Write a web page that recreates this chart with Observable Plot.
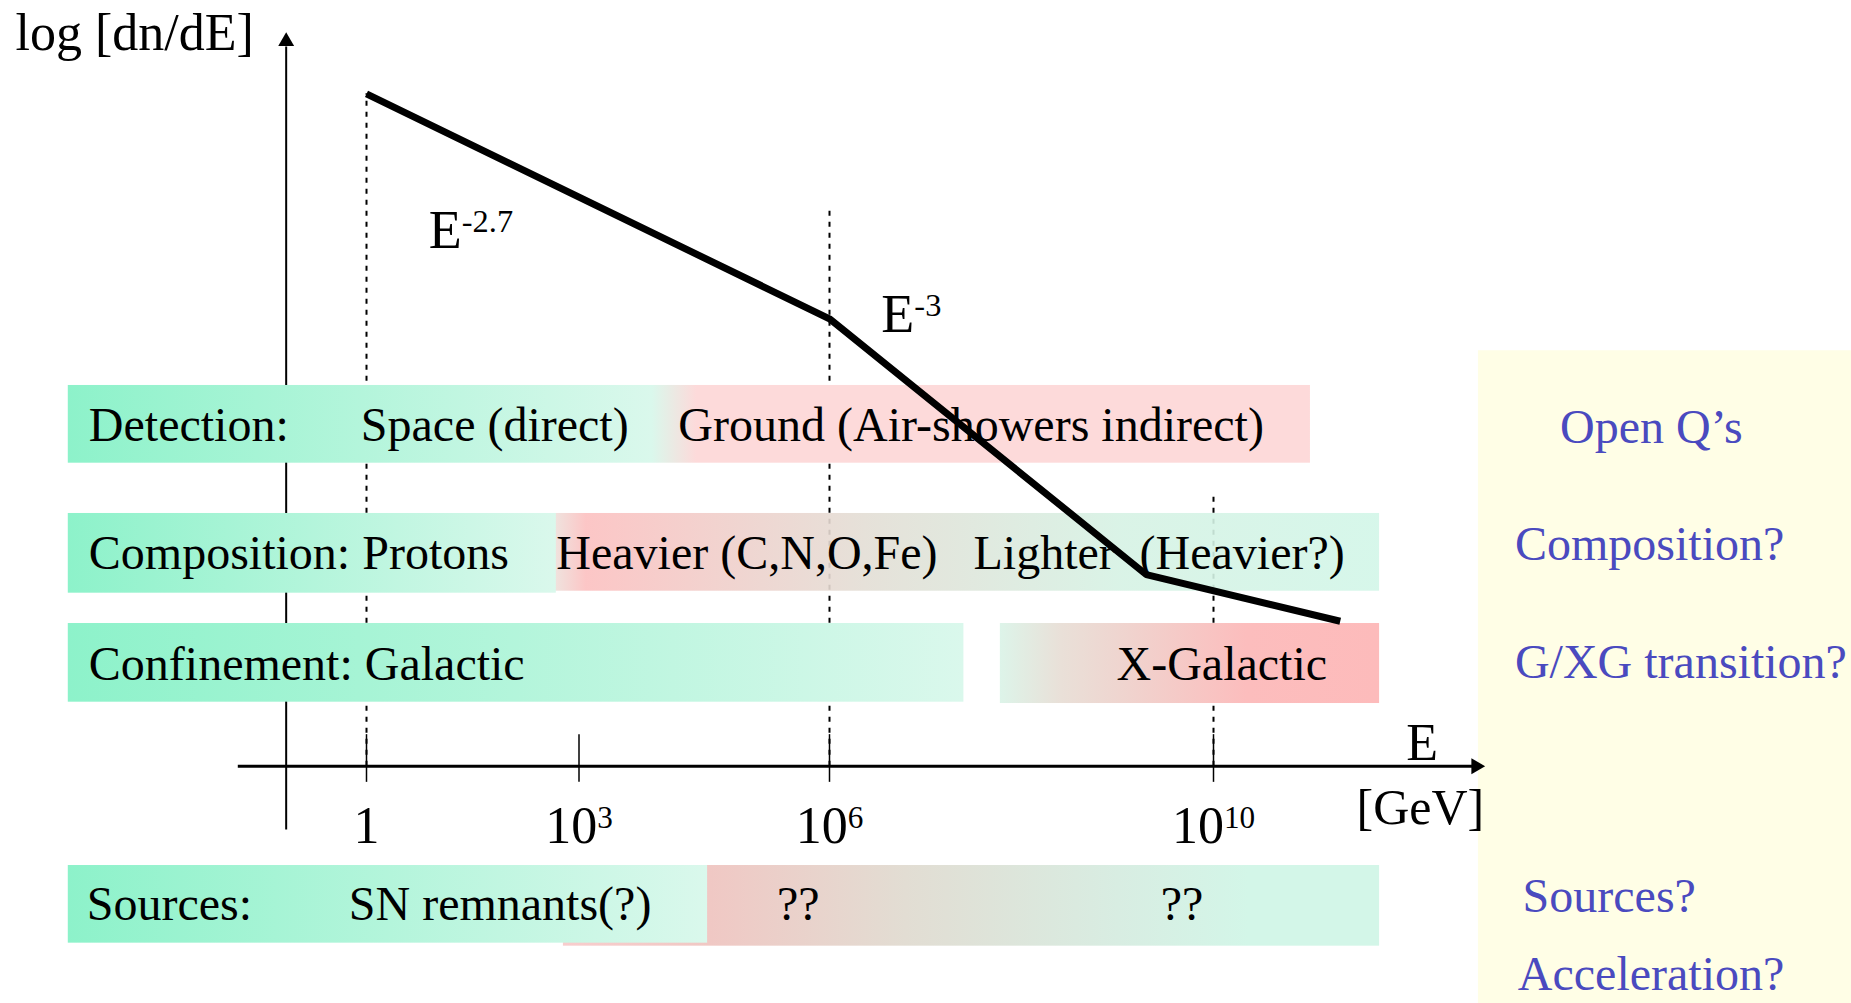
<!DOCTYPE html>
<html>
<head>
<meta charset="utf-8">
<script src="https://cdn.jsdelivr.net/npm/d3@7"></script>
<script src="https://cdn.jsdelivr.net/npm/@observablehq/plot@0.6"></script>
<style>
  html, body { margin: 0; padding: 0; background: #fff; }
  #chart svg { display: block; }
</style>
</head>
<body>
<div id="chart"></div>
<script>
// Energy axis in decades: log10(E / GeV)
const tickExponents = [0, 3, 6, 10];
const tickLabels = ["1", "10^3", "10^6", "10^10"];

// Schematic broken power law: log10 E against log dn/dE (arbitrary units, 0 on the energy axis)
const spectrumLogE = [0, 6, 9.3, 11.32];
const spectrumLogFlux = [91.6, 60.95, 26.1, 19.75];

// Spectral index annotations
const indexLabels = ["E^-2.7", "E^-3"];
const indexLogE = [0.88, 6.54];
const indexLogFlux = [70.6, 59.1];

// Dashed guides at 1 GeV, the knee and 10^10 GeV
const guideLogE = [0, 6, 10];
const guideTop = [91.6, 76.25, 37.15];

// Energy ranges of each topic band
const segTopic = ["Detection", "Composition", "Composition", "Confinement", "Confinement", "Sources", "Sources"];
const segFrom = [-4.21, 2.44, -4.21, -4.21, 7.78, 2.78, -4.21];
const segTo = [11.01, 11.73, 2.68, 7.40, 11.73, 11.73, 4.54];
const segLow = [41.28, 23.84, 23.57, 8.72, 8.54, -24.52, -24.11];
const segHigh = [51.87, 34.43, 34.43, 19.44, 19.44, -13.53, -13.53];
const segShade = ["spaceToGround", "heavyToLight", "galactic", "galactic", "extraGalactic", "unknown", "galactic"];

// Band texts
const bandLabels = [
  "Detection:", "Space (direct)", "Ground (Air-showers indirect)",
  "Composition: Protons", "Heavier (C,N,O,Fe)", "Lighter", "(Heavier?)",
  "Confinement: Galactic", "X-Galactic",
  "Sources:", "SN remnants(?)", "??", "??"
];
const bandLabelLogE = [-3.92, -0.08, 4.19, -3.92, 2.68, 7.5, 9.23, -3.92, 8.99, -3.95, -0.25, 5.37, 9.45];
const bandLabelLevel = [44.3, 44.3, 44.3, 26.9, 26.9, 26.9, 26.9, 11.8, 11.8, -21.0, -21.0, -21.0, -21.0];

// Open questions
const questions = ["Open Q\u2019s", "Composition?", "G/XG transition?", "Sources?", "Acceleration?"];
const questionLogE = [13.61, 13.14, 13.14, 13.22, 13.17];
const questionLevel = [44.1, 28.16, 11.95, -19.93, -30.55];

// Axis extents
const energyAxisSpan = [-1.81, 12.83];
const fluxAxisAt = -1.134;
const fluxAxisSpan = [-8.68, 100];
const notesPanel = {x1: 12.76, x2: 16.8, y1: -33, y2: 56.6};

// Gradient stops for the band fills
const shades = {
  galactic: [[0, "#8DF2CA"], [1, "#DAF8EC"]],
  spaceToGround: [[0, "#8DF2CA"], [0.47, "#DAF8EC"], [0.506, "#FDDADA"], [1, "#FDDADA"]],
  heavyToLight: [[0, "#E6F0E8"], [0.056, "#FCC0C0"], [0.39, "#E3DED5"], [0.69, "#D6F2E4"], [1, "#D2F6E8"]],
  extraGalactic: [[0, "#DDF4E9"], [0.16, "#E9E0D8"], [0.65, "#FCBDBD"], [1, "#FDBBBB"]],
  unknown: [[0, "#F8CDCD"], [0.18, "#F0C8C4"], [0.42, "#E2DDD3"], [0.68, "#D8EDE2"], [0.84, "#D3F6E8"], [1, "#D3F6E8"]]
};
// The composition overlay lets the guides show through faintly
const translucentShades = new Set(["heavyToLight"]);

const serif = "'Liberation Serif', 'Times New Roman', Times, serif";
const ink = "#000";
const questionBlue = "#4A4ABF";
const notesFill = "#FFFEE6";
const idx = n => d3.range(n);

const bandMarks = segTopic.map((topic, i) => Plot.rect([i], {
  x1: segFrom[i], x2: segTo[i], y1: segLow[i], y2: segHigh[i],
  fill: `url(#shade-${segShade[i]})`,
  fillOpacity: translucentShades.has(segShade[i]) ? 0.9 : 1
}));

const chart = Plot.plot({
  width: 1851,
  height: 1003,
  x: {type: "linear", domain: tickExponents, range: [366, 578.5, 829, 1213], axis: null},
  y: {domain: [0, 100], range: [765.7, 31.7], axis: null},
  style: {fontFamily: serif, background: "white"},
  marks: [
    Plot.rect([notesPanel], {x1: "x1", x2: "x2", y1: "y1", y2: "y2", fill: notesFill}),
    // vertical flux axis and dashed guides sit beneath the bands
    Plot.ruleX([fluxAxisAt], {y1: fluxAxisSpan[0], y2: fluxAxisSpan[1] - 2, stroke: ink, strokeWidth: 2}),
    Plot.ruleX(idx(guideLogE.length), {
      x: i => guideLogE[i], y1: 0, y2: i => guideTop[i],
      stroke: ink, strokeWidth: 2, strokeDasharray: "5,6"
    }),
    ...bandMarks,
    Plot.ruleY([0], {x1: energyAxisSpan[0], x2: energyAxisSpan[1] - 0.1, stroke: ink, strokeWidth: 3}),
    Plot.ruleX(tickExponents, {y1: -2.2, y2: 4.3, stroke: ink, strokeWidth: 1.5}),
    Plot.dot([0], {x: fluxAxisAt, y: fluxAxisSpan[1], symbol: "triangle", r: 5.9, fill: ink, dy: 9.2}),
    Plot.dot([0], {x: energyAxisSpan[1], y: 0, symbol: "triangle", r: 5.9, fill: ink, rotate: 90, dx: -9.2}),
    Plot.line(idx(spectrumLogE.length), {
      x: i => spectrumLogE[i], y: i => spectrumLogFlux[i],
      stroke: ink, strokeWidth: 7, strokeLinejoin: "miter", strokeLinecap: "butt"
    }),
    Plot.text(idx(indexLabels.length), {
      x: i => indexLogE[i], y: i => indexLogFlux[i], text: i => indexLabels[i],
      fontSize: 54, textAnchor: "start", lineAnchor: "bottom", fill: ink
    }),
    Plot.text(idx(tickLabels.length), {
      x: i => tickExponents[i], y: -10.53, text: i => tickLabels[i],
      fontSize: 52, textAnchor: "middle", lineAnchor: "bottom", fill: ink
    }),
    Plot.text(idx(bandLabels.length), {
      x: i => bandLabelLogE[i], y: i => bandLabelLevel[i], text: i => bandLabels[i],
      fontSize: 48, textAnchor: "start", lineAnchor: "bottom", fill: ink
    }),
    Plot.text(idx(questions.length), {
      x: i => questionLogE[i], y: i => questionLevel[i], text: i => questions[i],
      fontSize: 48, textAnchor: "start", lineAnchor: "bottom", fill: questionBlue
    }),
    Plot.text(["log [dn/dE]"], {x: -4.955, y: 97.6, fontSize: 52, textAnchor: "start", lineAnchor: "bottom", fill: ink}),
    Plot.text(["E"], {x: 12.008, y: 0.87, fontSize: 52, textAnchor: "start", lineAnchor: "bottom", fill: ink}),
    Plot.text(["[GeV]"], {x: 12.82, y: -7.85, fontSize: 50, textAnchor: "end", lineAnchor: "bottom", fill: ink})
  ]
});

// Linear gradients referenced by the band fills
const NS = "http://www.w3.org/2000/svg";
const defs = document.createElementNS(NS, "defs");
for (const [name, stops] of Object.entries(shades)) {
  const g = document.createElementNS(NS, "linearGradient");
  g.setAttribute("id", `shade-${name}`);
  g.setAttribute("x1", "0"); g.setAttribute("x2", "1");
  g.setAttribute("y1", "0"); g.setAttribute("y2", "0");
  for (const [offset, color] of stops) {
    const s = document.createElementNS(NS, "stop");
    s.setAttribute("offset", offset);
    s.setAttribute("stop-color", color);
    g.appendChild(s);
  }
  defs.appendChild(g);
}
chart.insertBefore(defs, chart.firstChild);

// Write "base^exp" labels as a base with a raised exponent
for (const t of chart.querySelectorAll("text")) {
  const s = t.textContent;
  const k = s.indexOf("^");
  if (k < 0) continue;
  const group = t.closest("g[font-size]");
  const size = group ? parseFloat(group.getAttribute("font-size")) : 48;
  t.textContent = s.slice(0, k);
  const sup = document.createElementNS(NS, "tspan");
  sup.setAttribute("font-size", (size * 0.6).toFixed(1));
  sup.setAttribute("dy", (-size * 0.3).toFixed(1));
  sup.textContent = s.slice(k + 1);
  t.appendChild(sup);
}

document.getElementById("chart").appendChild(chart);
</script>
</body>
</html>
